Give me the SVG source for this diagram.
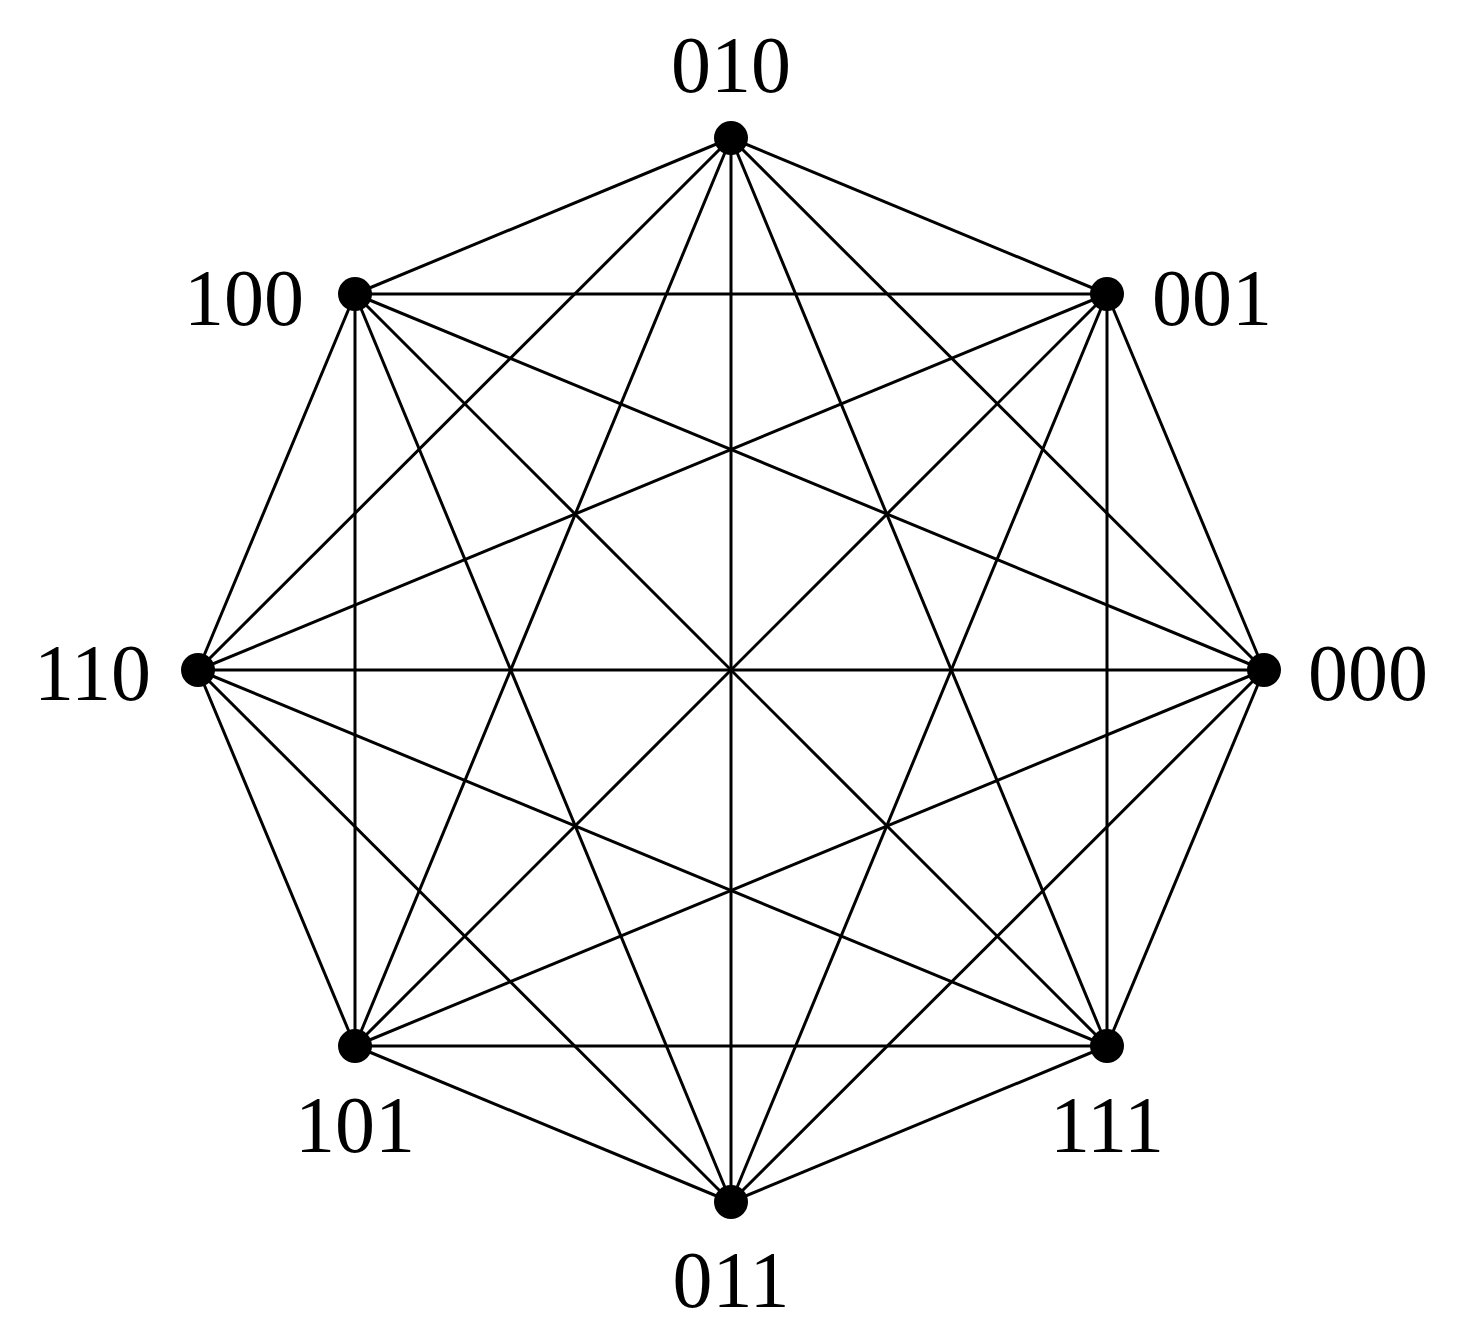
<svg xmlns="http://www.w3.org/2000/svg" width="1462" height="1344" viewBox="0 0 1462 1344">
<style>
line{stroke:#000;stroke-width:3}
circle{fill:#000}
text{font-family:"Liberation Serif",serif;font-size:80px;fill:#000}
</style>
<rect width="1462" height="1344" fill="#fff"/>
<g id="edges">
<line x1="1264" y1="670" x2="1107" y2="294"/><line x1="1264" y1="670" x2="731" y2="138"/><line x1="1264" y1="670" x2="355" y2="294"/><line x1="1264" y1="670" x2="198" y2="670"/><line x1="1264" y1="670" x2="355" y2="1046"/><line x1="1264" y1="670" x2="731" y2="1202"/><line x1="1264" y1="670" x2="1107" y2="1046"/>
<line x1="1107" y1="294" x2="731" y2="138"/><line x1="1107" y1="294" x2="355" y2="294"/><line x1="1107" y1="294" x2="198" y2="670"/><line x1="1107" y1="294" x2="355" y2="1046"/><line x1="1107" y1="294" x2="731" y2="1202"/><line x1="1107" y1="294" x2="1107" y2="1046"/>
<line x1="731" y1="138" x2="355" y2="294"/><line x1="731" y1="138" x2="198" y2="670"/><line x1="731" y1="138" x2="355" y2="1046"/><line x1="731" y1="138" x2="731" y2="1202"/><line x1="731" y1="138" x2="1107" y2="1046"/>
<line x1="355" y1="294" x2="198" y2="670"/><line x1="355" y1="294" x2="355" y2="1046"/><line x1="355" y1="294" x2="731" y2="1202"/><line x1="355" y1="294" x2="1107" y2="1046"/>
<line x1="198" y1="670" x2="355" y2="1046"/><line x1="198" y1="670" x2="731" y2="1202"/><line x1="198" y1="670" x2="1107" y2="1046"/>
<line x1="355" y1="1046" x2="731" y2="1202"/><line x1="355" y1="1046" x2="1107" y2="1046"/>
<line x1="731" y1="1202" x2="1107" y2="1046"/>
</g>
<g id="n000"><circle cx="1264" cy="670" r="17"/><text x="1308" y="700">000</text></g>
<g id="n001"><circle cx="1107" cy="294" r="17"/><text x="1152" y="325">001</text></g>
<g id="n010"><circle cx="731" cy="138" r="17"/><text x="731" y="92" text-anchor="middle">010</text></g>
<g id="n100"><circle cx="355" cy="294" r="17"/><text x="304" y="325" text-anchor="end">100</text></g>
<g id="n110"><circle cx="198" cy="670" r="17"/><text x="151" y="700" text-anchor="end">110</text></g>
<g id="n101"><circle cx="355" cy="1046" r="17"/><text x="355" y="1152" text-anchor="middle">101</text></g>
<g id="n011"><circle cx="731" cy="1202" r="17"/><text x="731" y="1307" text-anchor="middle">011</text></g>
<g id="n111"><circle cx="1107" cy="1046" r="17"/><text x="1107" y="1152" text-anchor="middle">111</text></g>
</svg>
